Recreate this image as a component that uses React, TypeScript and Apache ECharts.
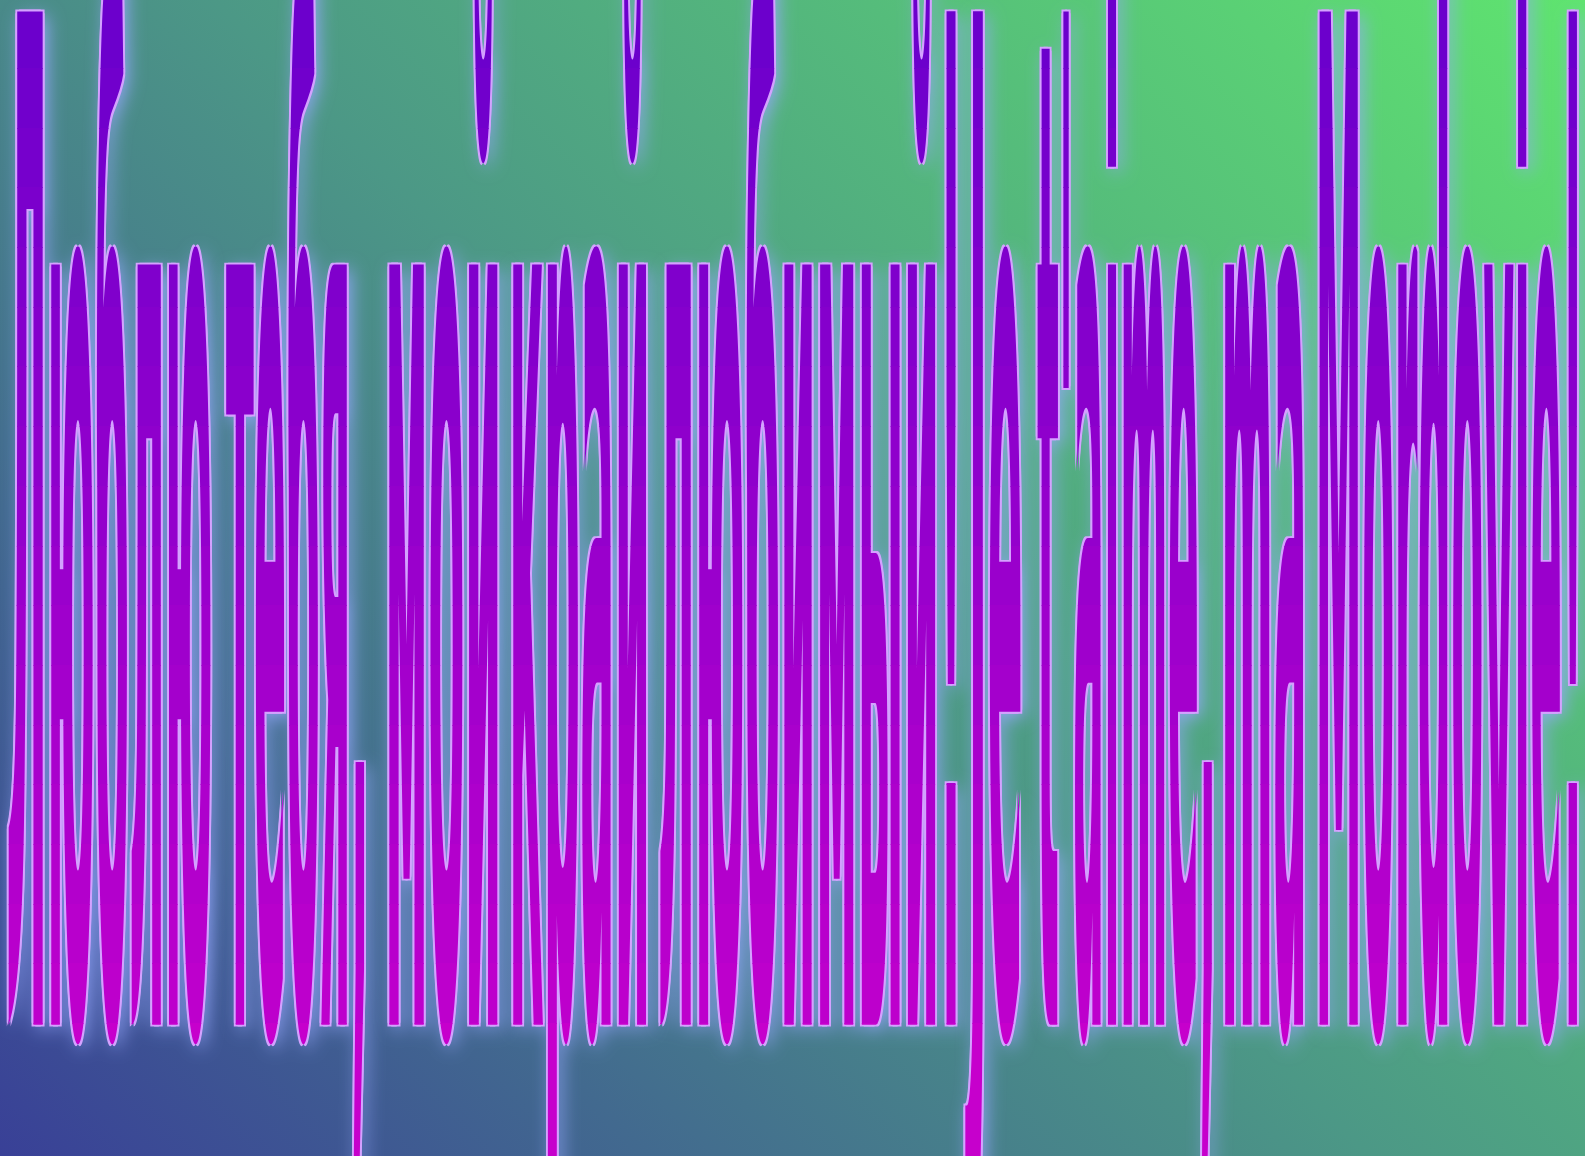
import React, { useEffect, useRef } from 'react';
import * as echarts from 'echarts';

// Content: words of the slogan and the horizontal span (ink) each one covers
const WORDS = ['Люблю', 'тебя,', 'мой', 'край', 'любимый!', 'Je', "t'aime,", 'ma', 'Mordovie!'];
const WORD_LEFT = [8, 226, 389, 513, 660, 965, 1037, 1225, 1319];
const WORD_RIGHT = [212, 364, 497, 647, 959, 1021, 1213, 1304, 1580];

const FONT_FAMILY = '"DejaVu Sans"';
const FONT_WEIGHT = 'bold';
const BASE_FONT_SIZE = 1000;

// Background colours (diagonal, bottom-left -> top-right)
const BG_STOPS = [
  { offset: 0, color: '#394097' },
  { offset: 0.5, color: '#4c9886' },
  { offset: 1, color: '#5fe46f' },
];
// Text fill: colour at cap top and at baseline
const TEXT_TOP_RGB = [110, 0, 204];
const TEXT_BOTTOM_RGB = [192, 0, 204];
const OUTLINE_COLOR = '#d4a2ff';
const GLOW_COLOR = 'rgba(150,168,255,0.95)';

export default function App() {
  const ref = useRef<HTMLDivElement>(null);

  useEffect(() => {
    const el = ref.current;
    if (!el) return;
    const chart = echarts.init(el, null, { renderer: 'svg' });
    const W = chart.getWidth();
    const H = chart.getHeight();

    const font = `${FONT_WEIGHT} ${BASE_FONT_SIZE}px ${FONT_FAMILY}`;
    const ctx = document.createElement('canvas').getContext('2d')!;
    ctx.font = font;

    const capTop = 68;
    const baseline = 1023;
    const em = 1390;
    const sy = em / BASE_FONT_SIZE;
    const cy = baseline - 0.345 * em;

    const wordX: number[] = [];
    const wordSx: number[] = [];
    const inkTop: number[] = [];
    const inkBottom: number[] = [];
    WORDS.forEach((w, i) => {
      const m = ctx.measureText(w);
      const inkL = -m.actualBoundingBoxLeft;
      const inkR = m.actualBoundingBoxRight;
      const sx = (WORD_RIGHT[i] - WORD_LEFT[i]) / (inkR - inkL);
      wordSx.push(sx);
      wordX.push(WORD_LEFT[i] - inkL * sx);
      inkTop.push(baseline - m.actualBoundingBoxAscent * sy - 4);
      inkBottom.push(baseline + m.actualBoundingBoxDescent * sy + 4);
    });

    const mk = (i: number, dx: number, dy: number, fill: string, extra: any = {}) => ({
      type: 'text',
      x: wordX[i] + dx,
      y: cy + dy,
      scaleX: wordSx[i],
      scaleY: sy,
      silent: true,
      style: {
        text: WORDS[i],
        x: 0,
        y: 0,
        font,
        textAlign: 'left',
        textVerticalAlign: 'middle',
        fill,
        ...extra,
      },
    });

    const o = 1.9;
    const offsets = [[-o, -o], [o, -o], [-o, o], [o, o]];

    const colorAt = (y: number) => {
      let t = (y - capTop) / (baseline - capTop);
      t = Math.max(-0.03, Math.min(1.1, t));
      const c = TEXT_TOP_RGB.map((v, k) => Math.round(v + (TEXT_BOTTOM_RGB[k] - v) * t));
      return `rgb(${c[0]},${c[1]},${c[2]})`;
    };

    // horizontal bands that emulate a vertical gradient fill of the letters
    const edges: number[] = [0];
    const inner = 16;
    for (let b = 0; b <= inner; b++) edges.push(Math.round(capTop + ((baseline - capTop) * b) / inner));
    edges.push(H);
    const bands: any[] = [];
    for (let b = 0; b < edges.length - 1; b++) {
      const y0 = edges[b];
      const y1 = edges[b + 1];
      if (y1 <= y0) continue;
      const words = WORDS.map((_, i) => i).filter((i) => inkTop[i] < y1 && inkBottom[i] > y0);
      if (!words.length) continue;
      bands.push({
        type: 'group',
        clipPath: { type: 'rect', shape: { x: -20, y: y0, width: W + 40, height: y1 - y0 + 1 } },
        children: words.map((i) => mk(i, 0, 0, colorAt((y0 + y1) / 2))),
      });
    }

    const glow = {
      type: 'group',
      children: WORDS.map((_, i) =>
        mk(i, 0, 0, OUTLINE_COLOR, {
          textShadowColor: GLOW_COLOR,
          textShadowBlur: 18,
          textShadowOffsetX: 4,
          textShadowOffsetY: 5,
        })
      ),
    };
    const outline = {
      type: 'group',
      children: offsets.flatMap(([ox, oy]) => WORDS.map((_, i) => mk(i, ox, oy, OUTLINE_COLOR))),
    };

    chart.setOption({
      animation: false,
      graphic: {
        elements: [
          {
            type: 'rect',
            z: 0,
            silent: true,
            shape: { x: 0, y: 0, width: W, height: H },
            style: {
              fill: {
                type: 'linear',
                x: 0,
                y: H,
                x2: (W + H) / 2,
                y2: H - (W + H) / 2,
                global: true,
                colorStops: BG_STOPS,
              },
            },
          },
        ],
      },
      series: [
        {
          type: 'custom',
          coordinateSystem: 'none',
          silent: true,
          z: 10,
          data: [[0]],
          renderItem: () => ({
            type: 'group',
            children: [glow, outline, ...bands],
          }),
        },
      ],
    });

    return () => chart.dispose();
  }, []);

  return (
    <div
      ref={ref}
      style={{ position: 'fixed', left: 0, top: 0, width: '100vw', height: '100vh' }}
    />
  );
}
